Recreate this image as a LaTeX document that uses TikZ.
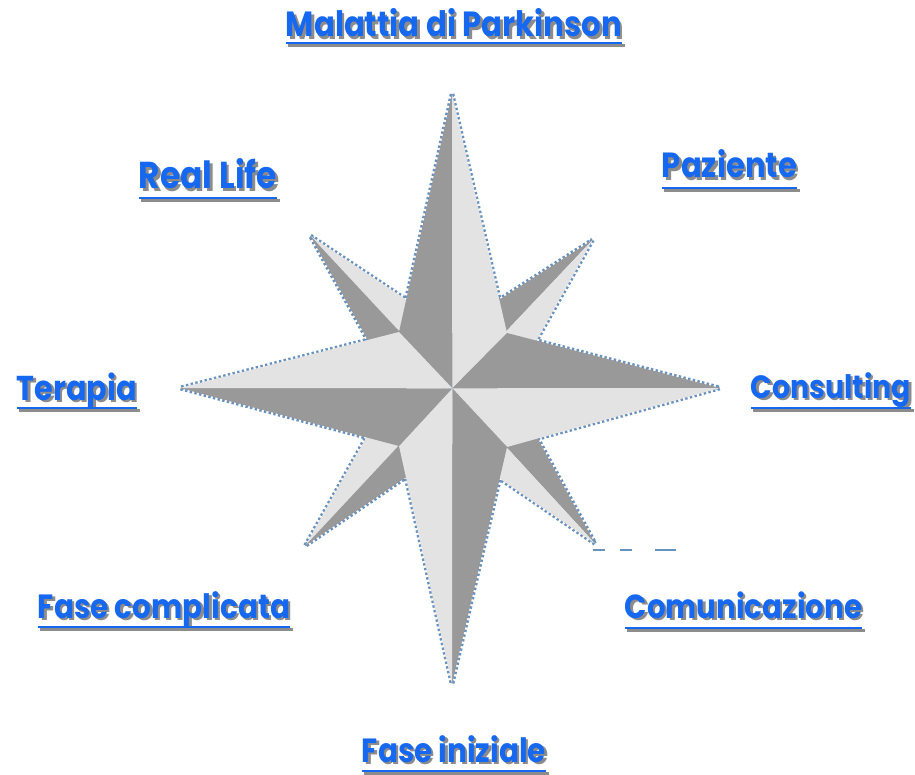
\documentclass[tikz,border=0pt]{standalone}
\usepackage{fontspec}
\setmainfont{Poppins}
\usepackage{graphicx}
\definecolor{lblblue}{RGB}{22,104,240}
\definecolor{lblshadow}{RGB}{140,140,140}
\definecolor{stardark}{RGB}{153,153,153}
\definecolor{starlight}{RGB}{227,227,227}
\definecolor{starline}{RGB}{105,145,190}
\tikzset{
 lbltext/.style={inner sep=0pt, anchor=base, text=lblblue, font=\bfseries},
 uline/.style={draw=lblblue, line width=2.6pt},
 ushade/.style={draw=lblshadow, line width=2.6pt},
 darkpart/.style={fill=stardark},
 lightpart/.style={fill=starlight},
 rim/.style={draw=starline, line width=4.6pt, dash pattern=on 2.4pt off 2.4pt, line join=round},
 stray/.style={draw=starline, line width=1.2pt},
}
\newcommand\fitted[2]{\scalebox{1}[1.14]{\resizebox{#1}{!}{#2}}}
\newcommand\shadowed[2]{%
 \makebox[0pt][l]{\raisebox{-2.3pt}{\kern2.3pt\fitted{#1}{\textcolor{lblshadow}{#2}}}}\fitted{#1}{#2}}
\newcommand\lbl[6]{%
 \node[lbltext] (#1) at ({(#2+#3)/2},#4) {\shadowed{\dimexpr#3pt-#2pt\relax}{#6}};
 \draw[ushade] ([xshift=2.5pt,yshift={-(#5-#4)*1pt-2.5pt}]#1.base west) -- ([xshift=2.5pt,yshift={-(#5-#4)*1pt-2.5pt}]#1.base east);
 \draw[uline] ([yshift={-(#5-#4)*1pt}]#1.base west) -- ([yshift={-(#5-#4)*1pt}]#1.base east);
}
\begin{document}
\begin{tikzpicture}[x=1pt,y=-1pt]
\useasboundingbox (0,0) rectangle (915,775);
% star points
\coordinate (C) at (452.3,388.3);
\coordinate (N) at (452,94);
\coordinate (S) at (452,684);
\coordinate (W) at (180,388);
\coordinate (E) at (720,388);
\coordinate (NWi) at (399,332);
\coordinate (NEi) at (507,333);
\coordinate (SWi) at (399,446);
\coordinate (SEi) at (507,447);
\coordinate (NWt) at (310.5,236);
\coordinate (NEt) at (592.5,240);
\coordinate (SWt) at (305.5,545.5);
\coordinate (SEt) at (595,543.5);
\coordinate (Na) at (452,330);
\coordinate (Wa) at (394,388);
\coordinate (Ea) at (510,388);
\coordinate (Sa) at (452,446);
% outlines (outer halves stay visible)
\draw[rim] (NWt) -- (Na) -- (C) -- (Wa) -- cycle;
\draw[rim] (NEt) -- (Ea) -- (C) -- (Na) -- cycle;
\draw[rim] (SEt) -- (Sa) -- (C) -- (Ea) -- cycle;
\draw[rim] (SWt) -- (Wa) -- (C) -- (Sa) -- cycle;
\draw[rim] (N) -- (NEi) -- (E) -- (SEi) -- (S) -- (SWi) -- (W) -- (NWi) -- cycle;
% diagonal arms
\fill[lightpart] (NWt) -- (Na) -- (C) -- cycle;
\fill[darkpart] (NWt) -- (Wa) -- (C) -- cycle;
\fill[darkpart] (NEt) -- (Na) -- (C) -- cycle;
\fill[lightpart] (NEt) -- (Ea) -- (C) -- cycle;
\fill[darkpart] (SEt) -- (Ea) -- (C) -- cycle;
\fill[lightpart] (SEt) -- (Sa) -- (C) -- cycle;
\fill[lightpart] (SWt) -- (Wa) -- (C) -- cycle;
\fill[darkpart] (SWt) -- (Sa) -- (C) -- cycle;
% main arms
\fill[darkpart] (N) -- (NWi) -- (C) -- cycle;
\fill[lightpart] (N) -- (NEi) -- (C) -- cycle;
\fill[darkpart] (E) -- (NEi) -- (C) -- cycle;
\fill[lightpart] (E) -- (SEi) -- (C) -- cycle;
\fill[darkpart] (S) -- (SEi) -- (C) -- cycle;
\fill[lightpart] (S) -- (SWi) -- (C) -- cycle;
\fill[darkpart] (W) -- (SWi) -- (C) -- cycle;
\fill[lightpart] (W) -- (NWi) -- (C) -- cycle;
% stray dashes
\coordinate (d1) at (593,550);
\coordinate (d2) at (676,550);
\draw[stray, dash pattern=on 12pt off 15pt on 12pt off 23pt on 21pt] (d1) -- (d2);
% labels
\lbl{park}{286}{622}{37}{43}{Malattia di Parkinson}
\lbl{real}{139}{277}{189}{198}{Real Life}
\lbl{paz}{662}{797}{178}{188}{Paziente}
\lbl{ter}{17}{137}{400}{408}{Terapia}
\lbl{cons}{751}{911}{398}{408}{Consulting}
\lbl{fcomp}{38}{290}{618}{627}{Fase complicata}
\lbl{comu}{625}{862}{618}{628}{Comunicazione}
\lbl{fini}{362}{546}{762}{771}{Fase iniziale}
\end{tikzpicture}
\end{document}
